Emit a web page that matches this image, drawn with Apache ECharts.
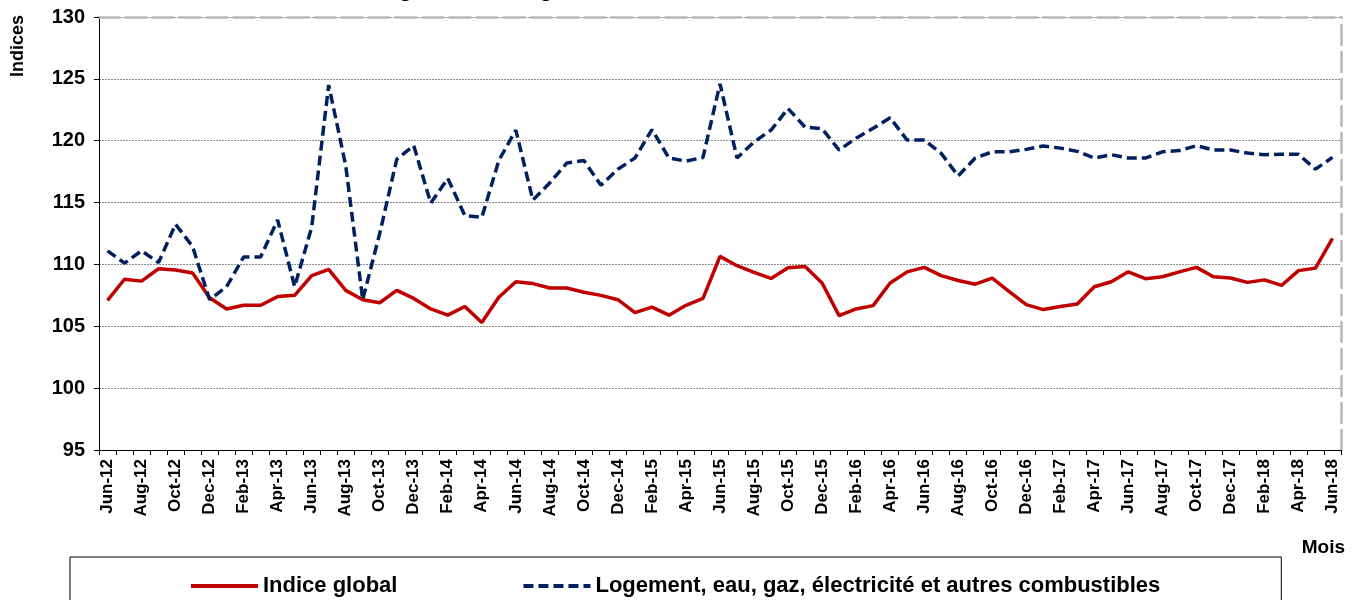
<!DOCTYPE html>
<html>
<head>
    <meta charset="utf-8"/>
    <title>Indices</title>
    <script src="https://cdn.jsdelivr.net/npm/echarts@6/dist/echarts.min.js"></script>
    <style>
        html, body { margin: 0; padding: 0; background: #fff; }
        #main { width: 1352px; height: 600px; }
    </style>
</head>
<body>
<div id="main"></div>
<script type="text/javascript">
    // mois (Jun-12 .. Jun-18)
    var mois = [
        'Jun-12','Jul-12','Aug-12','Sep-12','Oct-12','Nov-12','Dec-12',
        'Jan-13','Feb-13','Mar-13','Apr-13','May-13','Jun-13','Jul-13','Aug-13','Sep-13','Oct-13','Nov-13','Dec-13',
        'Jan-14','Feb-14','Mar-14','Apr-14','May-14','Jun-14','Jul-14','Aug-14','Sep-14','Oct-14','Nov-14','Dec-14',
        'Jan-15','Feb-15','Mar-15','Apr-15','May-15','Jun-15','Jul-15','Aug-15','Sep-15','Oct-15','Nov-15','Dec-15',
        'Jan-16','Feb-16','Mar-16','Apr-16','May-16','Jun-16','Jul-16','Aug-16','Sep-16','Oct-16','Nov-16','Dec-16',
        'Jan-17','Feb-17','Mar-17','Apr-17','May-17','Jun-17','Jul-17','Aug-17','Sep-17','Oct-17','Nov-17','Dec-17',
        'Jan-18','Feb-18','Mar-18','Apr-18','May-18','Jun-18'
    ];
    var indiceGlobal = [
        107.1, 108.8, 108.65, 109.65, 109.55, 109.3, 107.3,
        106.4, 106.7, 106.7, 107.4, 107.5, 109.1, 109.6, 107.9, 107.15, 106.9, 107.9, 107.25,
        106.4, 105.9, 106.6, 105.3, 107.35, 108.6, 108.45, 108.1, 108.1, 107.75, 107.5, 107.15,
        106.1, 106.55, 105.9, 106.7, 107.25, 110.65, 109.9, 109.35, 108.87, 109.73, 109.84, 108.5,
        105.86, 106.4, 106.67, 108.5, 109.4, 109.76, 109.1, 108.7, 108.4, 108.9, 107.8, 106.75,
        106.35, 106.6, 106.8, 108.2, 108.6, 109.4, 108.85, 109.0, 109.4, 109.76, 109.0, 108.9,
        108.55, 108.75, 108.3, 109.5, 109.7, 112.1
    ];
    var logement = [
        111.1, 110.1, 111.1, 110.15, 113.25, 111.45, 107.15,
        108.2, 110.6, 110.6, 113.6, 108.2, 113.0, 124.5, 118.0, 107.15, 112.5, 118.5, 119.6,
        114.95, 116.96, 113.95, 113.8, 118.4, 120.86, 115.2, 116.6, 118.2, 118.4, 116.4, 117.7,
        118.6, 120.9, 118.6, 118.35, 118.65, 124.6, 118.6, 119.9, 120.86, 122.6, 121.1, 120.97,
        119.25, 120.2, 121.0, 121.85, 120.05, 120.05, 118.98, 117.15, 118.6, 119.1, 119.1, 119.3,
        119.57, 119.4, 119.14, 118.6, 118.87, 118.6, 118.6, 119.1, 119.2, 119.6, 119.25, 119.25,
        119.0, 118.87, 118.9, 118.9, 117.7, 118.65
    ];
    var nomsSeries = ['Indice global', 'Logement, eau, gaz, électricité et autres combustibles'];
    var yMin = 95, yMax = 130, yPas = 5;

    var police = '"Liberation Sans", Arial, sans-serif';
    var bordGris = { color: '#b8b8b8', width: 2.5, type: [20, 7] };

    var myChart = echarts.init(document.getElementById('main'));
    var option = {
        animation: false,
        backgroundColor: '#fff',
        grid: { left: 99, right: 11, top: 17, bottom: 150 },
        legend: {
            data: nomsSeries,
            left: 70,
            top: 557,
            itemWidth: 67,
            itemHeight: 14,
            itemGap: 124,
            padding: [18, 121, 20, 119],
            borderColor: '#000',
            borderWidth: 1,
            itemStyle: { opacity: 0 },   // pas de symbole, juste le trait
            lineStyle: { width: 4 },
            textStyle: { fontFamily: police, fontWeight: 'bold', fontSize: 22, color: '#000' }
        },
        xAxis: [{
            type: 'category',
            data: mois,
            boundaryGap: true,
            position: 'bottom',
            axisLine: { lineStyle: { color: '#000', width: 1 } },
            axisTick: { show: true, interval: 0, length: 5, lineStyle: { color: '#000' } },
            axisLabel: {
                interval: 1,
                rotate: 90,
                margin: 9,
                fontFamily: police,
                fontWeight: 'bold',
                fontSize: 17,
                color: '#000'
            },
            splitLine: { show: false }
        }, {
            // bord haut pointillé
            type: 'category',
            data: mois,
            position: 'top',
            axisLine: { lineStyle: bordGris },
            axisTick: { show: false },
            axisLabel: { show: false }
        }],
        yAxis: [{
            type: 'value',
            min: yMin,
            max: yMax,
            interval: yPas,
            position: 'left',
            axisLine: { show: true, lineStyle: { color: '#000', width: 1 } },
            axisTick: { show: true, length: 5, lineStyle: { color: '#000' } },
            axisLabel: {
                margin: 14,
                fontFamily: police,
                fontWeight: 'bold',
                fontSize: 20,
                color: '#000'
            },
            splitLine: { show: true, lineStyle: { color: '#8c8c8c', width: 1, type: [2, 1] } }
        }, {
            // bord droit pointillé
            type: 'value',
            min: yMin,
            max: yMax,
            interval: yPas,
            position: 'right',
            axisLine: { show: true, lineStyle: bordGris },
            axisTick: { show: false },
            axisLabel: { show: false },
            splitLine: { show: false }
        }],
        series: [{
            name: nomsSeries[0],
            type: 'line',
            data: indiceGlobal,
            symbol: 'none',
            lineStyle: { color: '#c00000', width: 3.5 },
            itemStyle: { color: '#c00000' }
        }, {
            name: nomsSeries[1],
            type: 'line',
            data: logement,
            symbol: 'none',
            lineStyle: { color: '#002060', width: 3.5, type: [10, 5] },
            itemStyle: { color: '#002060' }
        }],
        graphic: [{
            // titre coupé en haut de l'image
            type: 'text',
            x: 372,
            y: 1,
            style: {
                text: 'Logement, eau, gaz, électricité et autres combustibles',
                font: 'bold 22px ' + police,
                fill: '#000',
                align: 'left',
                verticalAlign: 'bottom'
            }
        }, {
            type: 'text',
            x: 18,
            y: 46,
            rotation: Math.PI / 2,
            style: {
                text: 'Indices',
                font: 'bold 18px ' + police,
                fill: '#000',
                align: 'center',
                verticalAlign: 'middle'
            }
        }, {
            type: 'text',
            x: 1345,
            y: 548,
            style: {
                text: 'Mois',
                font: 'bold 19px ' + police,
                fill: '#000',
                align: 'right',
                verticalAlign: 'middle'
            }
        }]
    };
    myChart.setOption(option);
</script>
</body>
</html>
